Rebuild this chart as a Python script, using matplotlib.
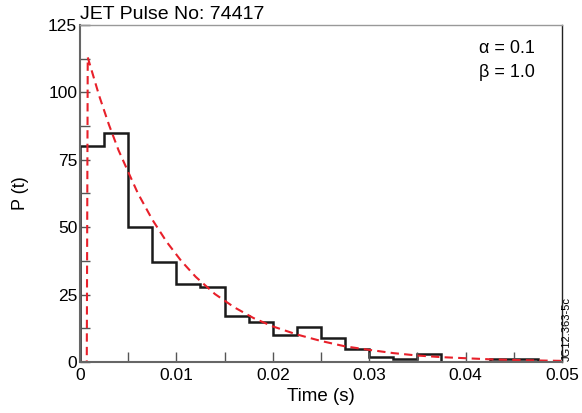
import numpy as np
import matplotlib
matplotlib.use("Agg")
import matplotlib.pyplot as plt

plt.rcParams['font.family'] = ['Liberation Sans', 'DejaVu Sans']

# histogram of measured P(t), bins of 2.5 ms
bin_edges = np.linspace(0, 0.05, 21)
counts = [80, 85, 50, 37, 29, 28, 17, 15, 10, 13,
          9, 5, 2, 1, 3, 0, 0, 1, 1, 0]

# model curve (alpha = 0.1, beta = 1.0)
t_fit = [0.0, 0.0007, 0.0008, 0.002, 0.003, 0.004, 0.005, 0.006, 0.0075,
         0.009, 0.0105, 0.012, 0.014, 0.016, 0.018, 0.02, 0.0225, 0.025,
         0.0275, 0.03, 0.0325, 0.035, 0.0375, 0.04, 0.0425, 0.045, 0.0475, 0.05]
p_fit = [0.0, 0.0, 113.0, 98.6, 88.0, 78.5, 70.5, 62.6, 52.8,
         44.5, 37.5, 31.6, 25.2, 20.3, 16.3, 13.2, 10.2, 7.8,
         5.8, 4.5, 3.3, 2.4, 1.8, 1.4, 1.0, 0.75, 0.56, 0.42]

x_major = [0, 0.01, 0.02, 0.03, 0.04, 0.05]
x_labels = ["0", "0.01", "0.02", "0.03", "0.04", "0.05"]
x_minor = [0.005, 0.015, 0.025, 0.035, 0.045]
y_major = [0, 25, 50, 75, 100, 125]
y_minor = [12.5, 37.5, 62.5, 87.5, 112.5]

fig = plt.figure(figsize=(5.82, 4.13), dpi=100)
ax = fig.add_axes([0.1375, 0.1235, 0.828, 0.816])

ax.stairs(counts, bin_edges, color="#1a1a1a", linewidth=1.8, baseline=0)
ax.plot(t_fit, p_fit, color="#e8202a", linestyle=(0, (4, 2.5)), linewidth=1.5)

ax.set_xlim(0, 0.05)
ax.set_ylim(0, 125)
ax.set_xticks(x_major)
ax.set_xticklabels(x_labels)
ax.set_xticks(x_minor, minor=True)
ax.set_yticks(y_major)
ax.set_yticks(y_minor, minor=True)
ax.tick_params(which="both", direction="in", length=7, width=1, color="#555555",
               labelsize=12.5, pad=2)
ax.tick_params(axis="x", pad=4)
ax.tick_params(which="both", top=False, right=False)

for side in ["left", "bottom"]:
    ax.spines[side].set_color("#666666")
    ax.spines[side].set_linewidth(1.5)
ax.spines["top"].set_color("#999999")
ax.spines["top"].set_linewidth(1)
ax.spines["right"].set_color("#222222")
ax.spines["right"].set_linewidth(1)

ax.set_xlabel("Time (s)", fontsize=13.5, labelpad=4)
ax.set_ylabel("P (t)", fontsize=13, labelpad=14)

fig.text(0.1375, 0.945, "JET Pulse No: 74417", fontsize=14, ha="left", va="bottom")
ax.text(0.944, 0.955, "\u03b1 = 0.1\n\u03b2 = 1.0", transform=ax.transAxes,
        fontsize=13, ha="right", va="top", linespacing=1.55)
fig.text(0.974, 0.125, "JG12.363-5c", fontsize=8, rotation=90, ha="center", va="bottom")

fig.savefig("out.png", dpi=100, facecolor="white")
